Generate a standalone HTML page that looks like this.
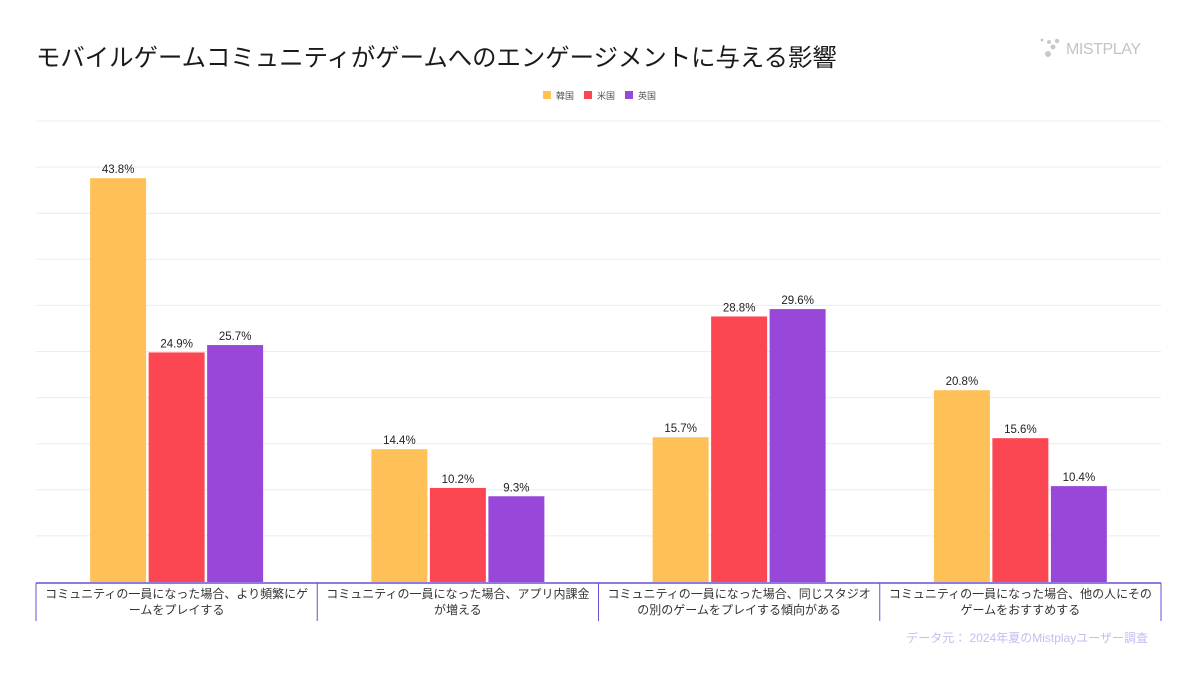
<!DOCTYPE html>
<html><head><meta charset="utf-8"><style>
body{margin:0;width:1197px;height:670px;background:#fff;overflow:hidden;font-family:"Liberation Sans","Noto Sans CJK JP",sans-serif;}
</style></head><body>
<svg id="c" width="1197" height="670" xmlns="http://www.w3.org/2000/svg" font-family="Liberation Sans, Noto Sans CJK JP, sans-serif">
<text x="36" y="66" font-size="24.4" fill="#1a1a1a">モバイルゲームコミュニティがゲームへのエンゲージメントに与える影響</text>
<g fill="#c8c8c8">
<circle cx="1042" cy="40" r="1.5"/><circle cx="1049" cy="42" r="2"/><circle cx="1057" cy="41" r="2.2"/><circle cx="1053" cy="47" r="2.5"/><circle cx="1048" cy="54" r="3"/>
<text x="1066" y="54" font-size="16" fill="#c4c4c4" textLength="75">MISTPLAY</text></g>
<g id="legend"></g>
<g id="grid"></g><g id="bars"></g><g id="axis"></g>
<text x="1148" y="642" text-anchor="end" font-size="12" fill="#c4bdf0">データ元： 2024年夏のMistplayユーザー調査</text>
</svg>
<script>
const categories=[["コミュニティの一員になった場合、より頻繁にゲ","ームをプレイする"],["コミュニティの一員になった場合、アプリ内課金","が増える"],["コミュニティの一員になった場合、同じスタジオ","の別のゲームをプレイする傾向がある"],["コミュニティの一員になった場合、他の人にその","ゲームをおすすめする"]];
const seriesNames=["韓国","米国","英国"];
const korea=[43.8,14.4,15.7,20.8];
const usa=[24.9,10.2,28.8,15.6];
const uk=[25.7,9.3,29.6,10.4];
const colors=["#fec057","#fc4753","#9947d9"];
const NS="http://www.w3.org/2000/svg";
const L=36,R=1161,T=121,B=582,MAX=50;
const y=v=>B-(v/MAX)*(B-T);
const gw=(R-L)/categories.length;
function mk(t,a,p){const e=document.createElementNS(NS,t);for(const k in a)e.setAttribute(k,a[k]);p.appendChild(e);return e;}
const grid=document.getElementById('grid');
for(let v=5;v<=MAX;v+=5){const l=mk('line',{x1:L,x2:R,y1:y(v),y2:y(v),stroke:'#ebebf7','stroke-width':1},grid);

}
const bars=document.getElementById('bars');
const series=[korea,usa,uk];
const bw=56,gap=2.5;
series.forEach((s,si)=>{s.forEach((v,ci)=>{
const cx=L+gw*ci+gw/2;const x=cx-1.5*bw-gap+si*(bw+gap);
const r=mk('rect',{x:x,y:y(v),width:bw,height:B-y(v),fill:colors[si]},bars);


const t=mk('text',{x:x+bw/2,y:y(v)-5,'text-anchor':'middle','font-size':11.5,fill:'#222'},bars);
t.textContent=v.toFixed(1)+'%';


});});
const ax=document.getElementById('axis');
const al=mk('line',{x1:L,x2:R,y1:583,y2:583,stroke:'#6a4fd8','stroke-width':1.5},ax);


for(let i=0;i<=categories.length;i++){const d=mk('line',{x1:L+gw*i,x2:L+gw*i,y1:583,y2:621,stroke:'#6a4fd8','stroke-width':1},ax);

}
categories.forEach((c,i)=>{c.forEach((ln,j)=>{const t=mk('text',{x:L+gw*i+gw/2,y:598+j*16,'text-anchor':'middle','font-size':12,fill:'#333'},ax);
t.textContent=ln;

});});
const lg=document.getElementById('legend');
const lx=[543,584,625];
seriesNames.forEach((n,i)=>{const r=mk('rect',{x:lx[i],y:91,width:8,height:8,fill:colors[i]},lg);


const t=mk('text',{x:lx[i]+13,y:99,'font-size':9,fill:'#555'},lg);t.textContent=n;

});
</script>
</body></html>
